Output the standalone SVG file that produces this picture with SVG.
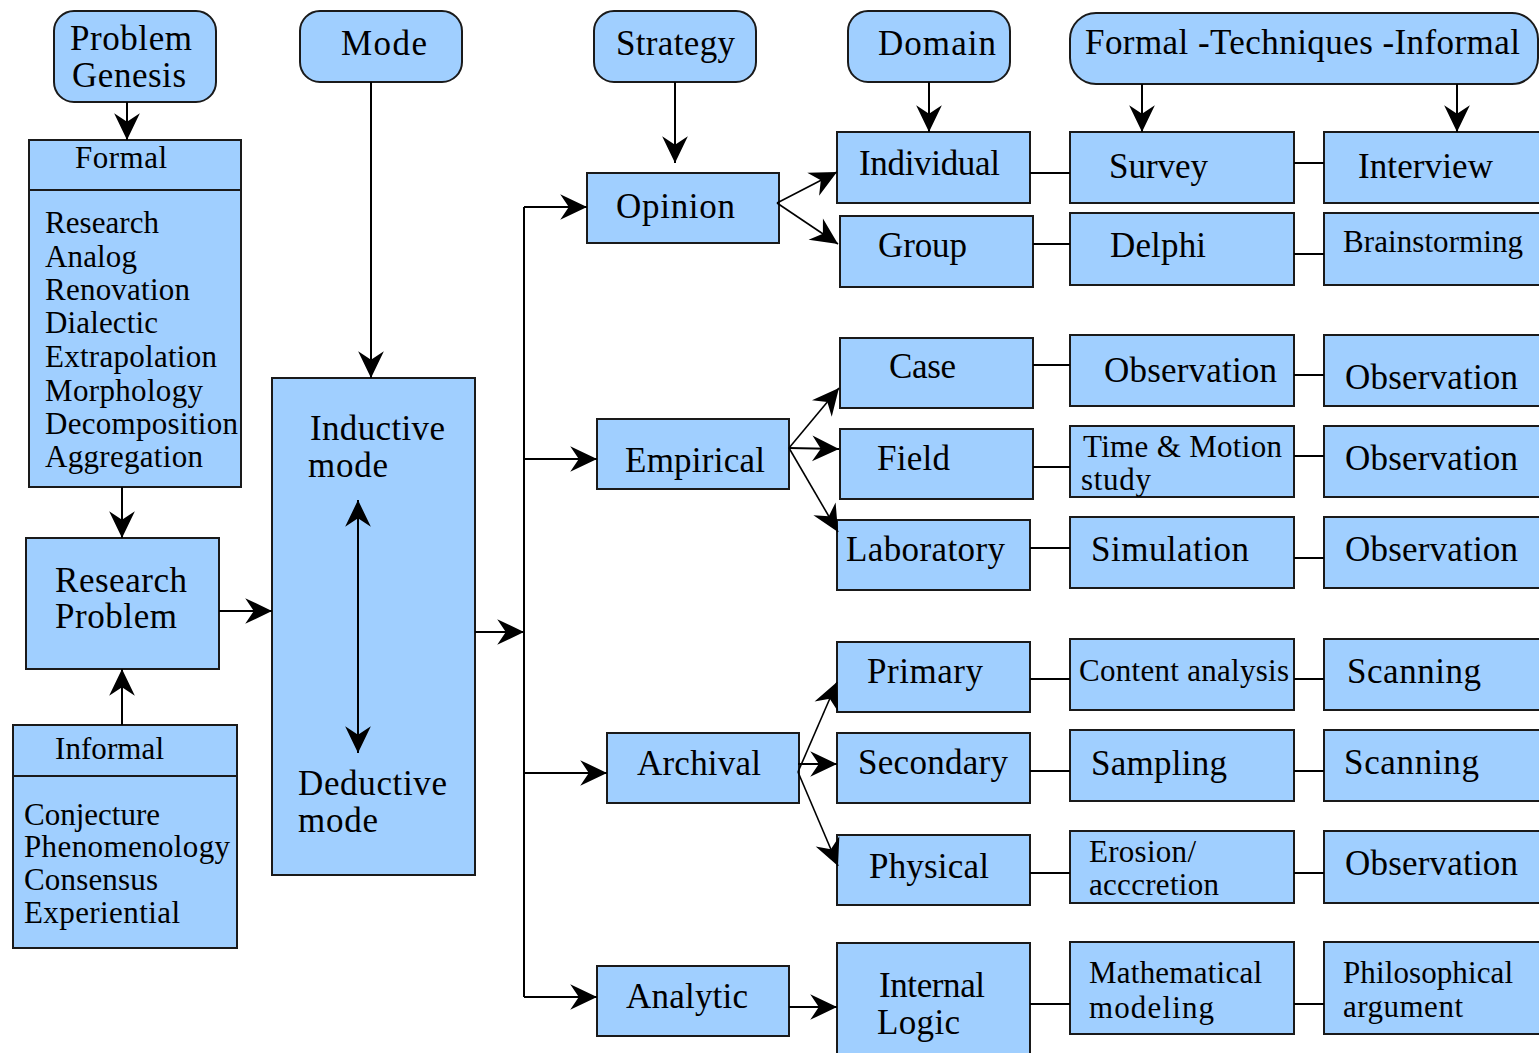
<svg xmlns="http://www.w3.org/2000/svg" width="1539" height="1053" viewBox="0 0 1539 1053" font-family="Liberation Serif, serif">
<style>
.b{fill:#a0cfff;stroke:#1a1a1a;stroke-width:2}
.t{font-size:35px;fill:#000}
.s{font-size:31px;fill:#000}
.c line{stroke:#000;stroke-width:2;fill:none}
.c .d{stroke-width:1.6}
.a{marker-end:url(#ah)}
</style>
<defs>
<marker id="ah" markerUnits="userSpaceOnUse" markerWidth="30" markerHeight="30" viewBox="-26 -14 28 28" refX="0" refY="0" orient="auto-start-reverse">
<path d="M0,0 L-25,-12 L-17,0 L-25,12 Z" fill="#000"/>
</marker>
</defs>
<rect width="1539" height="1053" fill="#fff"/>

<g id="problem-genesis"><rect class="b" x="54" y="11" width="162" height="91" rx="20"/>
<text class="t" x="70" y="50" textLength="122">Problem</text><text class="t" x="72" y="87" textLength="114">Genesis</text></g>
<g id="mode"><rect class="b" x="300" y="11" width="162" height="71" rx="20"/><text class="t" x="341" y="55" textLength="86">Mode</text></g>
<g id="strategy"><rect class="b" x="594" y="11" width="162" height="71" rx="20"/><text class="t" x="616" y="55" textLength="119">Strategy</text></g>
<g id="domain"><rect class="b" x="848" y="11" width="162" height="71" rx="20"/><text class="t" x="878" y="55" textLength="118">Domain</text></g>
<g id="techniques"><rect class="b" x="1070" y="13" width="468" height="71" rx="26"/><text class="t" x="1085" y="54" textLength="435">Formal -Techniques -Informal</text></g>

<g id="formal"><rect class="b" x="29" y="140" width="212" height="347"/><line x1="29" y1="190" x2="241" y2="190" stroke="#1a1a1a" stroke-width="2"/>
<text class="s" x="75" y="168" textLength="92">Formal</text>
<text class="s" x="45" y="233" textLength="114">Research</text>
<text class="s" x="45" y="267" textLength="92">Analog</text>
<text class="s" x="45" y="300" textLength="145">Renovation</text>
<text class="s" x="45" y="333" textLength="113">Dialectic</text>
<text class="s" x="45" y="367" textLength="172">Extrapolation</text>
<text class="s" x="45" y="401" textLength="158">Morphology</text>
<text class="s" x="45" y="434" textLength="193">Decomposition</text>
<text class="s" x="45" y="467" textLength="158">Aggregation</text></g>

<g id="research-problem"><rect class="b" x="26" y="538" width="193" height="131"/>
<text class="t" x="55" y="592" textLength="132">Research</text><text class="t" x="55" y="628" textLength="122">Problem</text></g>

<g id="informal"><rect class="b" x="13" y="725" width="224" height="223"/><line x1="13" y1="776" x2="237" y2="776" stroke="#1a1a1a" stroke-width="2"/>
<text class="s" x="55" y="759" textLength="109">Informal</text>
<text class="s" x="24" y="825" textLength="136">Conjecture</text>
<text class="s" x="24" y="857" textLength="206">Phenomenology</text>
<text class="s" x="24" y="890" textLength="134">Consensus</text>
<text class="s" x="24" y="923" textLength="156">Experiential</text></g>

<g id="inductive-deductive"><rect class="b" x="272" y="378" width="203" height="497"/>
<text class="t" x="310" y="440" textLength="135">Inductive</text><text class="t" x="308" y="477" textLength="80">mode</text>
<text class="t" x="298" y="795" textLength="149">Deductive</text><text class="t" x="298" y="832" textLength="80">mode</text></g>

<g id="opinion"><rect class="b" x="587" y="173" width="192" height="70"/><text class="t" x="616" y="218" textLength="119">Opinion</text></g>
<g id="empirical"><rect class="b" x="597" y="419" width="192" height="70"/><text class="t" x="625" y="472" textLength="140">Empirical</text></g>
<g id="archival"><rect class="b" x="607" y="733" width="192" height="70"/><text class="t" x="637" y="775" textLength="124">Archival</text></g>
<g id="analytic"><rect class="b" x="597" y="966" width="192" height="70"/><text class="t" x="626" y="1008" textLength="122">Analytic</text></g>

<g id="individual"><rect class="b" x="837" y="132" width="193" height="71"/><text class="t" x="859" y="175" textLength="141">Individual</text></g>
<g id="group"><rect class="b" x="840" y="216" width="193" height="71"/><text class="t" x="878" y="257" textLength="89">Group</text></g>
<g id="case"><rect class="b" x="840" y="338" width="193" height="70"/><text class="t" x="889" y="378" textLength="67">Case</text></g>
<g id="field"><rect class="b" x="840" y="429" width="193" height="70"/><text class="t" x="877" y="470" textLength="73">Field</text></g>
<g id="laboratory"><rect class="b" x="837" y="520" width="193" height="70"/><text class="t" x="846" y="561" textLength="159">Laboratory</text></g>
<g id="primary"><rect class="b" x="837" y="642" width="193" height="70"/><text class="t" x="867" y="683" textLength="116">Primary</text></g>
<g id="secondary"><rect class="b" x="837" y="733" width="193" height="70"/><text class="t" x="858" y="774" textLength="150">Secondary</text></g>
<g id="physical"><rect class="b" x="837" y="835" width="193" height="70"/><text class="t" x="869" y="878" textLength="120">Physical</text></g>
<g id="internal-logic"><rect class="b" x="837" y="943" width="193" height="125"/>
<text class="t" x="879" y="997" textLength="106">Internal</text><text class="t" x="877" y="1034" textLength="83">Logic</text></g>

<g id="survey"><rect class="b" x="1070" y="132" width="224" height="71"/><text class="t" x="1109" y="178" textLength="99">Survey</text></g>
<g id="delphi"><rect class="b" x="1070" y="213" width="224" height="72"/><text class="t" x="1110" y="257" textLength="96">Delphi</text></g>
<g id="observation-1"><rect class="b" x="1070" y="335" width="224" height="71"/><text class="t" x="1104" y="382" textLength="173">Observation</text></g>
<g id="time-motion"><rect class="b" x="1070" y="426" width="224" height="71"/>
<text class="s" x="1083" y="457" textLength="199">Time &amp; Motion</text><text class="s" x="1081" y="490" textLength="70">study</text></g>
<g id="simulation"><rect class="b" x="1070" y="517" width="224" height="71"/><text class="t" x="1091" y="561" textLength="158">Simulation</text></g>
<g id="content-analysis"><rect class="b" x="1070" y="639" width="224" height="71"/><text class="s" x="1079" y="681" textLength="210">Content analysis</text></g>
<g id="sampling"><rect class="b" x="1070" y="730" width="224" height="71"/><text class="t" x="1091" y="775" textLength="136">Sampling</text></g>
<g id="erosion"><rect class="b" x="1070" y="831" width="224" height="72"/>
<text class="s" x="1089" y="862" textLength="107">Erosion/</text><text class="s" x="1089" y="895" textLength="130">acccretion</text></g>
<g id="mathematical"><rect class="b" x="1070" y="942" width="224" height="92"/>
<text class="s" x="1089" y="983" textLength="173">Mathematical</text><text class="s" x="1089" y="1018" textLength="125">modeling</text></g>

<g id="interview"><rect class="b" x="1324" y="132" width="230" height="71"/><text class="t" x="1358" y="178" textLength="135">Interview</text></g>
<g id="brainstorming"><rect class="b" x="1324" y="213" width="230" height="72"/><text class="s" x="1343" y="252" textLength="180">Brainstorming</text></g>
<g id="observation-2"><rect class="b" x="1324" y="335" width="230" height="71"/><text class="t" x="1345" y="389" textLength="173">Observation</text></g>
<g id="observation-3"><rect class="b" x="1324" y="426" width="230" height="71"/><text class="t" x="1345" y="470" textLength="173">Observation</text></g>
<g id="observation-4"><rect class="b" x="1324" y="517" width="230" height="71"/><text class="t" x="1345" y="561" textLength="173">Observation</text></g>
<g id="scanning-1"><rect class="b" x="1324" y="639" width="230" height="71"/><text class="t" x="1347" y="683" textLength="134">Scanning</text></g>
<g id="scanning-2"><rect class="b" x="1324" y="730" width="230" height="71"/><text class="t" x="1344" y="774" textLength="135">Scanning</text></g>
<g id="observation-5"><rect class="b" x="1324" y="831" width="230" height="72"/><text class="t" x="1345" y="875" textLength="173">Observation</text></g>
<g id="philosophical"><rect class="b" x="1324" y="942" width="230" height="92"/>
<text class="s" x="1343" y="983" textLength="170">Philosophical</text><text class="s" x="1343" y="1017" textLength="120">argument</text></g>

<g id="connectors" class="c">
<line class="a" x1="127" y1="102" x2="127" y2="140"/>
<line class="a" x1="371" y1="82" x2="371" y2="378"/>
<line class="a" x1="675" y1="82" x2="675" y2="163"/>
<line class="a" x1="929" y1="82" x2="929" y2="132"/>
<line class="a" x1="1142" y1="84" x2="1142" y2="132"/>
<line class="a" x1="1457" y1="84" x2="1457" y2="132"/>
<line class="a" x1="122" y1="487" x2="122" y2="538"/>
<line class="a" x1="122" y1="725" x2="122" y2="669"/>
<line class="a" x1="219" y1="611" x2="272" y2="611"/>
<line x1="358" y1="500" x2="358" y2="753" marker-start="url(#ah)" marker-end="url(#ah)"/>
<line class="a" x1="475" y1="632" x2="524" y2="632"/>
<line x1="524" y1="207" x2="524" y2="997"/>
<line class="a" x1="524" y1="207" x2="587" y2="207"/>
<line class="a" x1="524" y1="459" x2="597" y2="459"/>
<line class="a" x1="524" y1="773" x2="607" y2="773"/>
<line class="a" x1="524" y1="997" x2="597" y2="997"/>
<line class="a d" x1="777" y1="203" x2="837" y2="172"/>
<line class="a d" x1="777" y1="203" x2="838" y2="244"/>
<line class="a d" x1="789" y1="448" x2="839" y2="388"/>
<line class="a" x1="789" y1="448" x2="839" y2="449"/>
<line class="a d" x1="789" y1="448" x2="838" y2="532"/>
<line class="a d" x1="798" y1="772" x2="837" y2="682"/>
<line class="a" x1="798" y1="764" x2="837" y2="764"/>
<line class="a d" x1="798" y1="772" x2="838" y2="866"/>
<line class="a" x1="789" y1="1007" x2="837" y2="1007"/>
<line x1="1030" y1="173" x2="1070" y2="173"/>
<line x1="1033" y1="244" x2="1070" y2="244"/>
<line x1="1033" y1="365" x2="1070" y2="365"/>
<line x1="1033" y1="467" x2="1070" y2="467"/>
<line x1="1030" y1="548" x2="1070" y2="548"/>
<line x1="1030" y1="679" x2="1070" y2="679"/>
<line x1="1030" y1="771" x2="1070" y2="771"/>
<line x1="1030" y1="873" x2="1070" y2="873"/>
<line x1="1030" y1="1004" x2="1070" y2="1004"/>
<line x1="1294" y1="163" x2="1324" y2="163"/>
<line x1="1294" y1="254" x2="1324" y2="254"/>
<line x1="1294" y1="375" x2="1324" y2="375"/>
<line x1="1294" y1="456" x2="1324" y2="456"/>
<line x1="1294" y1="558" x2="1324" y2="558"/>
<line x1="1294" y1="679" x2="1324" y2="679"/>
<line x1="1294" y1="771" x2="1324" y2="771"/>
<line x1="1294" y1="873" x2="1324" y2="873"/>
<line x1="1294" y1="1004" x2="1324" y2="1004"/>
</g>
</svg>
